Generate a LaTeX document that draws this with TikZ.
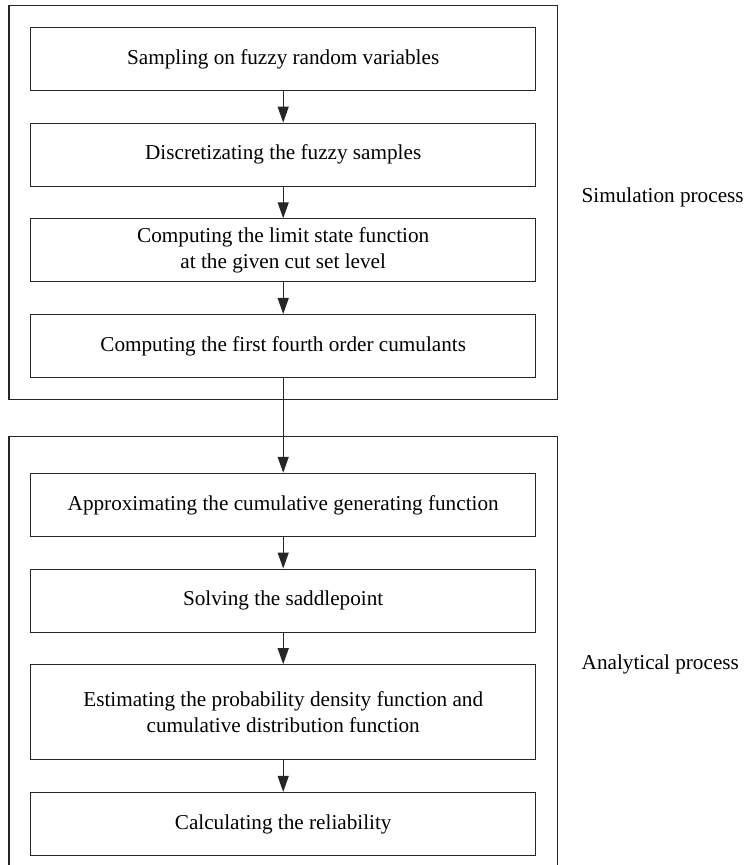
\documentclass[tikz,border=0pt]{standalone}
\usepackage{fontspec}
\setmainfont{Liberation Serif}
\usetikzlibrary{positioning,fit,arrows.meta}

\begin{document}
\begin{tikzpicture}[
    node distance=15.75pt,
    font=\fontsize{10.6}{13.3}\selectfont,
    stepbox/.style={rectangle, draw=black!85, line width=0.6pt, minimum width=252.5pt, minimum height=31.5pt, align=center, inner sep=2pt},
    frame/.style={rectangle, draw=black!85, line width=0.6pt, inner xsep=10.5pt, inner ysep=10.5pt},
    side/.style={inner sep=0pt, anchor=west},
    flow/.style={draw=black!85, line width=0.6pt, -{Triangle[length=8pt,width=5.5pt]}}
]

% Page
\useasboundingbox (-141.6pt,29.5pt) rectangle (230.9pt,-403pt);
\clip (-141.6pt,29.5pt) rectangle (230.9pt,-403pt);

% Simulation steps
\node[stepbox] (sample) {Sampling on fuzzy random variables};
\node[stepbox, below=of sample] (discrete) {Discretizating the fuzzy samples};
\node[stepbox, below=of discrete] (limit) {Computing the limit state function\\at the given cut set level};
\node[stepbox, below=of limit] (cumulants) {Computing the first fourth order cumulants};

% Analytical steps
\node[stepbox, below=47.3pt of cumulants] (approx) {Approximating the cumulative generating function};
\node[stepbox, below=of approx] (saddle) {Solving the saddlepoint};
\node[stepbox, below=of saddle, minimum height=47.5pt] (density) {Estimating the probability density function and\\cumulative distribution function};
\node[stepbox, below=of density] (reliability) {Calculating the reliability};

% Process frames
\node[frame, fit=(sample)(cumulants)] (simulation) {};
\node[frame, inner ysep=18pt, fit=(approx)(reliability)] (analytical) {};
\node[side, right=11.7pt of simulation, yshift=2.5pt] (simlabel) {Simulation process};
\node[side, right=11.7pt of analytical] (analabel) {Analytical process};

% Arrows
\draw[flow] (sample) -- (discrete);
\draw[flow] (discrete) -- (limit);
\draw[flow] (limit) -- (cumulants);
\draw[flow] (cumulants) -- (approx);
\draw[flow] (approx) -- (saddle);
\draw[flow] (saddle) -- (density);
\draw[flow] (density) -- (reliability);

\end{tikzpicture}
\end{document}
